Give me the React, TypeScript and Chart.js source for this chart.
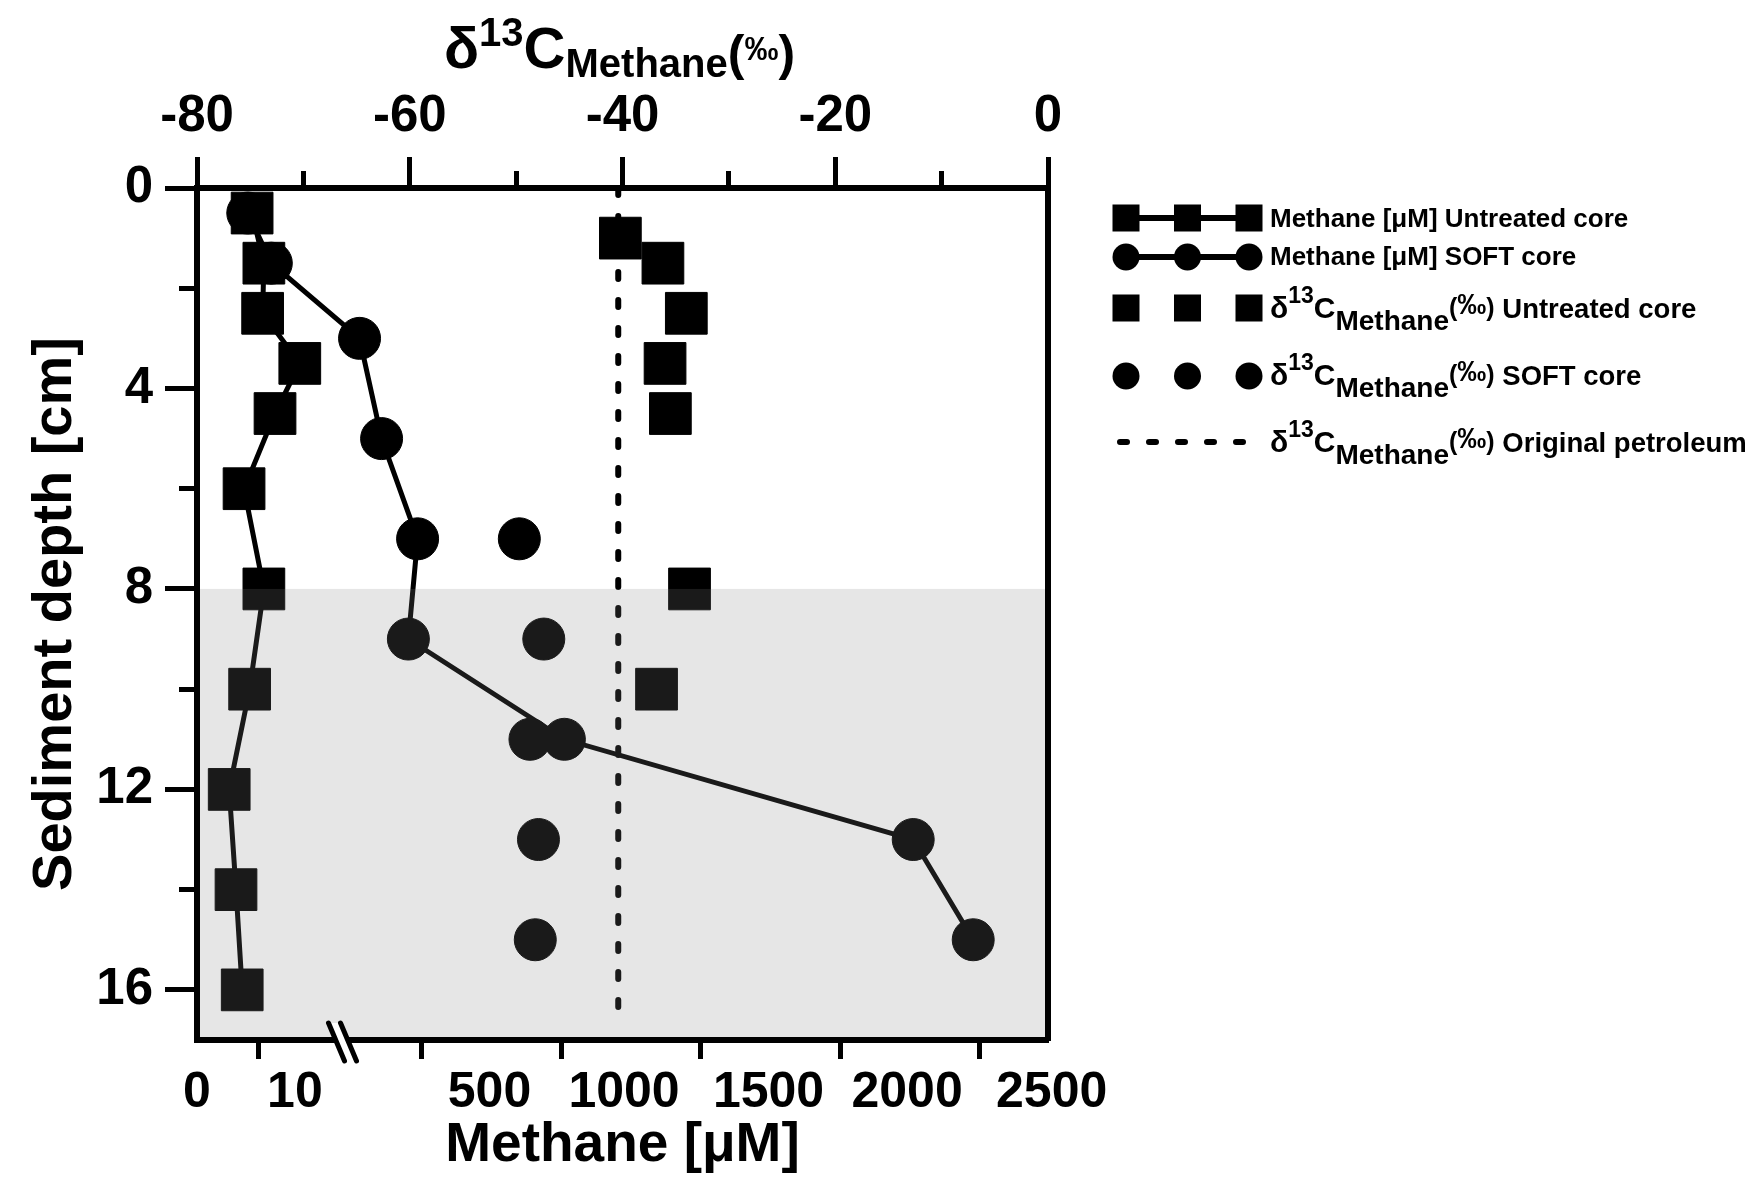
import React, { useEffect, useRef } from 'react';
import { Chart, registerables } from 'chart.js';

Chart.register(...registerables);

// ---------------- data ----------------
const DEPTH_UNTREATED = [0.5, 1.5, 2.5, 3.5, 4.5, 6, 8, 10, 12, 14, 16];
const METHANE_UNTREATED = [8.9, 10.8, 10.6, 16.6, 12.6, 7.6, 10.8, 8.5, 5.2, 6.3, 7.3];

const DEPTH_SOFT = [0.5, 1.5, 3, 5, 7, 9, 11, 13, 15];
const METHANE_SOFT = [8.2, 12.0, 278, 357, 486, 453, 1012, 2262, 2477];

const DEPTH_D13C_UNTREATED = [1, 1.5, 2.5, 3.5, 4.5, 8, 10];
const D13C_UNTREATED = [-40.2, -36.2, -34.0, -36.0, -35.5, -33.7, -36.8];

const DEPTH_D13C_SOFT = [7, 9, 11, 13, 15];
const D13C_SOFT = [-49.7, -47.4, -48.7, -47.9, -48.2];

const PETROLEUM_D13C = -40.4;
const PETROLEUM_DEPTHS = [0, 16.6];

const SHADED_FROM_DEPTH = 8;

const D13C_MIN = -80;
const D13C_MAX = 0;
const DEPTH_MIN = 0;
const DEPTH_MAX = 17;

// broken methane axis: low segment 0..LOW_MAX, high segment HIGH_MIN..HIGH_MAX
const METHANE_TICKS = [0, 10, 500, 1000, 1500, 2000, 2500];
const METHANE_LOW_MAX = 23.5;
const METHANE_HIGH_MIN = 217;
const METHANE_HIGH_MAX = 2745;

const LABEL_METHANE_UNTREATED = 'Methane [μM] Untreated core';
const LABEL_METHANE_SOFT = 'Methane [μM] SOFT core';
const LABEL_D13C_UNTREATED = 'δ13C Methane (‰) Untreated core';
const LABEL_D13C_SOFT = 'δ13C Methane (‰) SOFT core';
const LABEL_PETROLEUM = 'δ13C Methane (‰) Original petroleum';

// ---------------- layout / style ----------------
const FONT = '"Liberation Sans", Arial, Helvetica, sans-serif';
const W = 1754;
const H = 1187;
const PLOT = { left: 197, top: 188, right: 1048, bottom: 1040 };
const BREAK_FRAC = 0.171; // fraction of axis width where the break sits
const BOTTOM_LABEL_SHIFT = [0, 36, 68, 63, 68, 67, 72];
const BOTTOM_LABEL_BASELINE = 1107;
const INK = '#000000';

function methaneToAxis(v: number): number {
  if (v <= METHANE_LOW_MAX) return (v / METHANE_LOW_MAX) * BREAK_FRAC;
  return BREAK_FRAC + ((v - METHANE_HIGH_MIN) / (METHANE_HIGH_MAX - METHANE_HIGH_MIN)) * (1 - BREAK_FRAC);
}

type Seg = { text: string; size: number; dy?: number };

function drawRich(ctx: CanvasRenderingContext2D, segs: Seg[], x: number, baseline: number, align: 'left' | 'center') {
  let total = 0;
  const widths = segs.map((s) => {
    ctx.font = `bold ${s.size}px ${FONT}`;
    const w = ctx.measureText(s.text).width;
    total += w;
    return w;
  });
  let cx = align === 'center' ? x - total / 2 : x;
  ctx.textAlign = 'left';
  ctx.textBaseline = 'alphabetic';
  segs.forEach((s, i) => {
    ctx.font = `bold ${s.size}px ${FONT}`;
    ctx.fillText(s.text, cx, baseline + (s.dy || 0));
    cx += widths[i];
  });
}

const TITLE_SEGS: Seg[] = [
  { text: 'δ', size: 58 },
  { text: '13', size: 40, dy: -22 },
  { text: 'C', size: 58 },
  { text: 'Methane', size: 40, dy: 9 },
  { text: '(', size: 50, dy: 2 },
  { text: '‰', size: 34, dy: -8 },
  { text: ')', size: 50, dy: 2 },
];

function deltaSegs(tail: string): Seg[] {
  return [
    { text: 'δ', size: 30 },
    { text: '13', size: 23, dy: -15 },
    { text: 'C', size: 30 },
    { text: 'Methane', size: 28, dy: 12 },
    { text: '(', size: 25, dy: -2 },
    { text: '‰', size: 29, dy: -4 },
    { text: ')', size: 25, dy: -2 },
    { text: ' ' + tail, size: 27.5 },
  ];
}

const LEGEND_ROWS = [
  { ds: 0, cy: 218, baseline: 227, segs: [{ text: LABEL_METHANE_UNTREATED, size: 26 }] as Seg[] },
  { ds: 2, cy: 257, baseline: 265, segs: [{ text: LABEL_METHANE_SOFT, size: 26 }] as Seg[] },
  { ds: 1, cy: 308, baseline: 318, segs: deltaSegs('Untreated core') },
  { ds: 3, cy: 376, baseline: 385, segs: deltaSegs('SOFT core') },
  { ds: 4, cy: 442, baseline: 452, segs: deltaSegs('Original petroleum') },
];
const LEGEND_SYMBOL_X = [1126, 1187.5, 1249];
const LEGEND_TEXT_X = 1270;

const bandPlugin = {
  id: 'band',
  afterDatasetsDraw(chart: any) {
    const { ctx, chartArea, scales } = chart;
    const yTop = scales.y.getPixelForValue(SHADED_FROM_DEPTH);
    ctx.save();
    ctx.fillStyle = 'rgba(128,128,128,0.2)';
    ctx.fillRect(chartArea.left, yTop, chartArea.right - chartArea.left, chartArea.bottom - yTop);
    ctx.restore();
  },
};

const decorPlugin = {
  id: 'decor',
  afterDraw(chart: any) {
    const { ctx, chartArea, scales } = chart;
    const xm = scales.xm;
    ctx.save();
    ctx.fillStyle = INK;
    ctx.strokeStyle = INK;

    // bottom tick labels (methane axis)
    ctx.font = `bold 50px ${FONT}`;
    ctx.textAlign = 'center';
    ctx.textBaseline = 'alphabetic';
    METHANE_TICKS.forEach((v, i) => {
      const px = xm.getPixelForValue(methaneToAxis(v)) + BOTTOM_LABEL_SHIFT[i];
      ctx.fillText(String(v), px, BOTTOM_LABEL_BASELINE);
    });

    // axis break marks
    const bx = xm.getPixelForValue(BREAK_FRAC);
    const by = xm.top + 2;
    ctx.fillStyle = '#ffffff';
    ctx.beginPath();
    ctx.moveTo(bx - 6 - 8, by - 19);
    ctx.lineTo(bx + 6 - 8, by - 19);
    ctx.lineTo(bx + 6 + 8, by + 19);
    ctx.lineTo(bx - 6 + 8, by + 19);
    ctx.closePath();
    ctx.fill();
    ctx.lineWidth = 5;
    ctx.lineCap = 'round';
    [-6, 6].forEach((o) => {
      ctx.beginPath();
      ctx.moveTo(bx + o - 8, by - 19);
      ctx.lineTo(bx + o + 8, by + 19);
      ctx.stroke();
    });
    ctx.fillStyle = INK;

    // top title
    drawRich(ctx, TITLE_SEGS, (chartArea.left + chartArea.right) / 2 - 3, 68, 'center');

    // legend
    LEGEND_ROWS.forEach((row) => {
      const ds = chart.data.datasets[row.ds];
      const cy = row.cy;
      ctx.fillStyle = INK;
      ctx.strokeStyle = INK;
      if (ds.showLine && !ds.borderDash) {
        ctx.lineWidth = 6;
        ctx.lineCap = 'butt';
        ctx.setLineDash([]);
        ctx.beginPath();
        ctx.moveTo(LEGEND_SYMBOL_X[0], cy);
        ctx.lineTo(LEGEND_SYMBOL_X[2], cy);
        ctx.stroke();
      }
      if (ds.borderDash) {
        ctx.lineWidth = 6;
        ctx.lineCap = 'round';
        ctx.setLineDash([7, 22]);
        ctx.beginPath();
        ctx.moveTo(LEGEND_SYMBOL_X[0] - 6, cy);
        ctx.lineTo(LEGEND_SYMBOL_X[2] + 2, cy);
        ctx.stroke();
        ctx.setLineDash([]);
      } else {
        LEGEND_SYMBOL_X.forEach((sx) => {
          if (ds.pointStyle === 'rect') {
            ctx.fillRect(sx - 13.5, cy - 13.5, 27, 27);
          } else {
            ctx.beginPath();
            ctx.arc(sx, cy, 13.5, 0, Math.PI * 2);
            ctx.fill();
          }
        });
      }
      drawRich(ctx, row.segs, LEGEND_TEXT_X, row.baseline, 'left');
    });
    ctx.restore();
  },
};

export default function App() {
  const canvasRef = useRef<HTMLCanvasElement | null>(null);

  useEffect(() => {
    if (!canvasRef.current) return;
    Chart.defaults.font.family = FONT;
    Chart.defaults.color = INK;

    const squareStyle = {
      pointStyle: 'rect',
      pointRadius: 29.5,
      pointBorderWidth: 1,
      pointBackgroundColor: INK,
      pointBorderColor: INK,
    };
    const circleStyle = {
      pointStyle: 'circle',
      pointRadius: 21,
      pointBorderWidth: 1,
      pointBackgroundColor: INK,
      pointBorderColor: INK,
    };

    const tickFont = { family: FONT, size: 51, weight: 'bold' as const };
    const titleFont = { family: FONT, size: 55, weight: 'bold' as const };

    const chart = new Chart(canvasRef.current, {
      type: 'scatter',
      data: {
        datasets: [
          {
            label: LABEL_METHANE_UNTREATED,
            data: METHANE_UNTREATED.map((v, i) => ({ x: methaneToAxis(v), y: DEPTH_UNTREATED[i] })),
            xAxisID: 'xm',
            yAxisID: 'y',
            showLine: true,
            borderColor: INK,
            borderWidth: 5,
            ...squareStyle,
          } as any,
          {
            label: LABEL_D13C_UNTREATED,
            data: D13C_UNTREATED.map((v, i) => ({ x: v, y: DEPTH_D13C_UNTREATED[i] })),
            xAxisID: 'xd',
            yAxisID: 'y',
            showLine: false,
            ...squareStyle,
          } as any,
          {
            label: LABEL_METHANE_SOFT,
            data: METHANE_SOFT.map((v, i) => ({ x: methaneToAxis(v), y: DEPTH_SOFT[i] })),
            xAxisID: 'xm',
            yAxisID: 'y',
            showLine: true,
            borderColor: INK,
            borderWidth: 5,
            ...circleStyle,
          } as any,
          {
            label: LABEL_D13C_SOFT,
            data: D13C_SOFT.map((v, i) => ({ x: v, y: DEPTH_D13C_SOFT[i] })),
            xAxisID: 'xd',
            yAxisID: 'y',
            showLine: false,
            ...circleStyle,
          } as any,
          {
            label: LABEL_PETROLEUM,
            data: PETROLEUM_DEPTHS.map((d) => ({ x: PETROLEUM_D13C, y: d })),
            xAxisID: 'xd',
            yAxisID: 'y',
            showLine: true,
            borderColor: INK,
            borderWidth: 6,
            borderDash: [7, 21],
            borderCapStyle: 'round',
            pointRadius: 0,
          } as any,
        ],
      },
      options: {
        responsive: false,
        devicePixelRatio: 1,
        animation: false,
        events: [],
        layout: { padding: { left: 0, top: 0, right: W - PLOT.right, bottom: 0 } },
        plugins: {
          legend: { display: false },
          tooltip: { enabled: false },
          title: { display: false },
        },
        scales: {
          xd: {
            type: 'linear',
            position: 'top',
            min: D13C_MIN,
            max: D13C_MAX,
            weight: 1,
            ticks: { stepSize: 20, font: tickFont, color: INK, padding: 9, maxRotation: 0, autoSkip: false },
            grid: { drawOnChartArea: false, tickLength: 31, tickWidth: 5, tickColor: INK },
            border: { display: true, width: 6, color: INK, z: 1 },
            afterFit: (s: any) => {
              s.height = PLOT.top;
            },
          },
          xdMinor: {
            type: 'linear',
            position: 'top',
            min: D13C_MIN,
            max: D13C_MAX,
            weight: 0,
            ticks: { stepSize: 10, display: false },
            grid: { drawOnChartArea: false, tickLength: 17, tickWidth: 5, tickColor: INK },
            border: { display: false },
            afterFit: (s: any) => {
              s.height = 0;
            },
          },
          xm: {
            type: 'linear',
            position: 'bottom',
            min: 0,
            max: 1,
            afterBuildTicks: (s: any) => {
              s.ticks = METHANE_TICKS.map((v) => ({ value: methaneToAxis(v) }));
            },
            ticks: { display: false },
            grid: {
              drawOnChartArea: false,
              tickLength: 19,
              tickWidth: 5,
              tickColor: (c: any) => (c.index === 0 ? 'rgba(0,0,0,0)' : INK),
            },
            border: { display: true, width: 6, color: INK, z: 1 },
            title: { display: true, text: 'Methane [μM]', font: titleFont, color: INK, padding: { top: 0, bottom: 8 } },
            afterFit: (s: any) => {
              s.height = H - PLOT.bottom;
            },
          },
          y: {
            type: 'linear',
            position: 'left',
            reverse: true,
            min: DEPTH_MIN,
            max: DEPTH_MAX,
            weight: 1,
            ticks: { stepSize: 4, includeBounds: false, font: tickFont, color: INK, padding: 12 },
            grid: { drawOnChartArea: false, tickLength: 32, tickWidth: 5, tickColor: INK },
            border: { display: true, width: 6, color: INK, z: 1 },
            title: { display: true, text: 'Sediment depth [cm]', font: { family: FONT, size: 56, weight: 'bold' }, color: INK, padding: { top: 22, bottom: 0 } },
            afterFit: (s: any) => {
              s.width = PLOT.left;
            },
          },
          yMinor: {
            type: 'linear',
            position: 'left',
            reverse: true,
            min: DEPTH_MIN,
            max: DEPTH_MAX,
            weight: 0,
            ticks: { stepSize: 2, includeBounds: false, display: false },
            grid: { drawOnChartArea: false, tickLength: 18, tickWidth: 5, tickColor: INK },
            border: { display: false },
            afterFit: (s: any) => {
              s.width = 0;
            },
          },
          yR: {
            type: 'linear',
            position: 'right',
            min: DEPTH_MIN,
            max: DEPTH_MAX,
            ticks: { display: false },
            grid: { drawOnChartArea: false, drawTicks: false },
            border: { display: true, width: 6, color: INK, z: 1 },
            afterFit: (s: any) => {
              s.width = 0;
            },
          },
        },
      } as any,
      plugins: [bandPlugin, decorPlugin],
    });

    return () => {
      chart.destroy();
    };
  }, []);

  return (
    <div style={{ position: 'fixed', left: 0, top: 0, width: W, height: H, background: '#ffffff' }}>
      <canvas ref={canvasRef} width={W} height={H} style={{ display: 'block' }} />
    </div>
  );
}
